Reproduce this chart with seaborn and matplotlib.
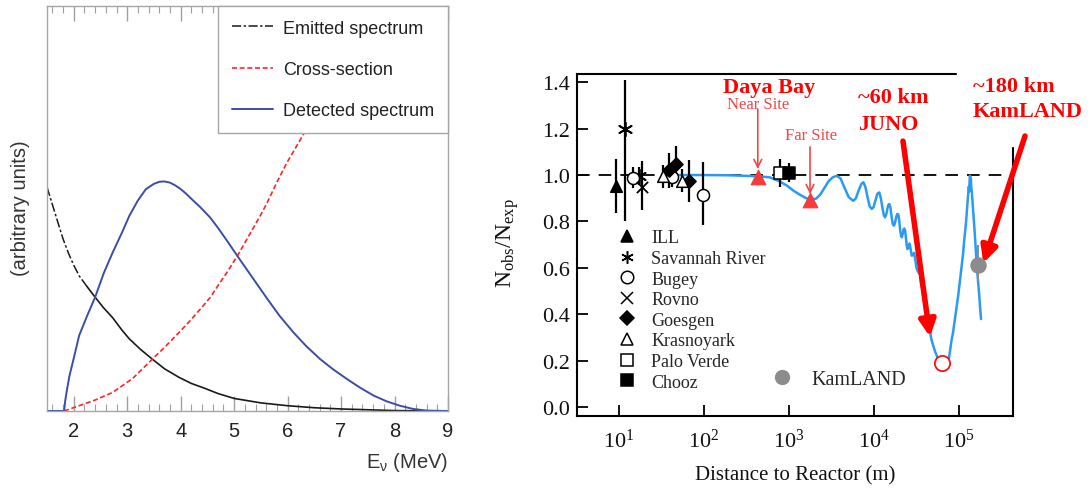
'''two panel figure: reactor antineutrino spectrum and survival ratio vs baseline'''
import numpy as np
import pandas as pd
import seaborn as sns
import matplotlib
matplotlib.use('Agg')
import matplotlib.pyplot as plt
from matplotlib.lines import Line2D
from matplotlib.patches import Rectangle
from matplotlib import ticker

#region data - left panel (arbitrary units, 0..1 of the axes height)
e_emit = [1.5, 1.6, 1.7, 1.8, 1.9, 2.0, 2.1, 2.25, 2.4, 2.55, 2.73, 2.9, 3.04, 3.25, 3.47, 3.7, 3.97, 4.2,
          4.45, 4.7, 5.0, 5.5, 6.0, 6.5, 7.0, 7.5, 8.0, 9.0]
emitted = [0.553, 0.51, 0.467, 0.425, 0.39, 0.36, 0.334, 0.307, 0.281, 0.256, 0.23, 0.2, 0.178, 0.152, 0.128,
           0.104, 0.083, 0.068, 0.056, 0.043, 0.031, 0.02, 0.013, 0.008, 0.005, 0.003, 0.001, 0.0]
n_dashdot = 8   # emitted spectrum is drawn dash-dot up to here, solid after

e_det = [1.5, 1.82, 1.84, 1.87, 1.92, 2.0, 2.1, 2.25, 2.4, 2.56, 2.73, 2.9, 3.04, 3.2, 3.35, 3.5, 3.6, 3.69,
         3.8, 3.9, 4.0, 4.09, 4.2, 4.37, 4.55, 4.7, 4.88, 5.06, 5.35, 5.62, 5.85, 6.11, 6.35, 6.61, 6.85,
         7.11, 7.35, 7.61, 7.85, 8.1, 8.35, 8.6, 9.0]
detected = [0.0, 0.0, 0.025, 0.05, 0.087, 0.13, 0.186, 0.235, 0.281, 0.34, 0.392, 0.44, 0.482, 0.52, 0.548,
            0.561, 0.566, 0.567, 0.564, 0.557, 0.548, 0.538, 0.524, 0.503, 0.478, 0.452, 0.418, 0.383, 0.328,
            0.277, 0.235, 0.194, 0.16, 0.128, 0.103, 0.079, 0.058, 0.038, 0.024, 0.013, 0.005, 0.001, 0.0]

e_xs = [1.82, 2.1, 2.4, 2.73, 3.1, 3.47, 3.72, 3.97, 4.17, 4.37, 4.55, 4.7, 4.88, 5.06, 5.2, 5.35, 5.5,
        5.62, 5.8, 5.99, 6.15, 6.3, 6.6, 6.9, 7.2]
xsection = [0.0, 0.013, 0.027, 0.046, 0.08, 0.128, 0.16, 0.194, 0.222, 0.252, 0.28, 0.31, 0.345, 0.383,
            0.415, 0.45, 0.485, 0.515, 0.565, 0.614, 0.65, 0.684, 0.77, 0.87, 0.98]

left_names = ['Emitted spectrum', 'Cross-section', 'Detected spectrum']
#endregion

#region data - right panel
# oscillation curve, distance (m) vs Nobs/Nexp
osc_L = [50, 100, 200, 300, 426, 605, 760, 953, 1150, 1365, 1580, 1790, 2100, 2350, 2650, 2940, 3300, 3690,
         4100, 4500, 5100, 5780, 6200, 6700, 7200, 7590, 8000, 8500, 9000, 9530, 10000, 10600, 11100, 11700,
         12200, 12700, 13200, 13650, 14100, 14600, 15000, 15350, 15800, 16300, 16800, 17400, 17900, 18500,
         19000, 19600, 20100, 20600, 21100, 21500, 22000, 22500, 23000, 23500, 24000, 24500, 25000, 25500,
         26000, 26500, 27200, 28100, 29000, 30000, 31000, 32000, 33650, 34500, 35300, 36300, 37500, 38500,
         39500, 40400, 41500, 42500, 43500, 44500, 46000, 47500, 49000, 51000, 53000, 55500, 58000, 61000,
         65200, 68000, 71000, 74000, 77000, 80000, 83200, 86000, 89000, 92000, 95300, 99000, 102000, 106000,
         109000, 113000, 116000, 119000, 122500, 126000, 128000, 130300, 132000, 133500, 135000, 136500,
         138000, 139500, 141000, 143000, 147000, 152000, 157000, 163700, 170000, 175400, 180000, 184000]
osc_R = [1.0, 1.0, 0.999, 0.997, 0.995, 0.99, 0.975, 0.955, 0.932, 0.915, 0.902, 0.895, 0.898, 0.915, 0.945,
         0.972, 0.99, 0.997, 0.985, 0.95, 0.905, 0.889, 0.9, 0.935, 0.962, 0.969, 0.95, 0.905, 0.865, 0.854,
         0.862, 0.895, 0.92, 0.925, 0.9, 0.86, 0.828, 0.818, 0.83, 0.858, 0.873, 0.875, 0.86, 0.82, 0.79,
         0.782, 0.795, 0.82, 0.832, 0.83, 0.8, 0.76, 0.738, 0.732, 0.745, 0.765, 0.77, 0.762, 0.73, 0.70,
         0.681, 0.685, 0.70, 0.705, 0.685, 0.653, 0.655, 0.665, 0.635, 0.60, 0.581, 0.585, 0.57, 0.53, 0.51,
         0.505, 0.47, 0.437, 0.425, 0.41, 0.37, 0.345, 0.335, 0.30, 0.28, 0.26, 0.24, 0.222, 0.19, 0.17,
         0.158, 0.162, 0.18, 0.19, 0.21, 0.25, 0.294, 0.32, 0.36, 0.40, 0.437, 0.48, 0.52, 0.57,
         0.61, 0.66, 0.71, 0.75, 0.796, 0.86, 0.89, 0.925, 0.95, 0.93, 0.975, 0.997,
         0.96, 0.985, 0.95, 0.93, 0.87, 0.796, 0.72, 0.61, 0.54, 0.48, 0.42, 0.38]

exp_names = ['ILL', 'Savannah River', 'Bugey', 'Rovno', 'Goesgen', 'Krasnoyark', 'Palo Verde', 'Chooz']
exp_L = {'ILL': [9.3], 'Savannah River': [11.9, 17.6], 'Bugey': [14.9, 42.3, 98], 'Rovno': [18.7],
         'Goesgen': [39.3, 47.4, 68], 'Krasnoyark': [33, 56.4], 'Palo Verde': [800], 'Chooz': [1000]}
exp_R = {'ILL': [0.953], 'Savannah River': [1.2, 0.995], 'Bugey': [0.989, 0.99, 0.912], 'Rovno': [0.949],
         'Goesgen': [1.02, 1.049, 0.975], 'Krasnoyark': [0.995, 0.975], 'Palo Verde': [1.01], 'Chooz': [1.01]}
exp_err_lo = {'ILL': [0.115], 'Savannah River': [0.40, 0.04], 'Bugey': [0.045, 0.04, 0.125], 'Rovno': [0.10],
              'Goesgen': [0.075, 0.075, 0.09], 'Krasnoyark': [0.05, 0.05], 'Palo Verde': [0.06], 'Chooz': [0.04]}
exp_err_hi = {'ILL': [0.115], 'Savannah River': [0.21, 0.04], 'Bugey': [0.045, 0.04, 0.145], 'Rovno': [0.11],
              'Goesgen': [0.075, 0.075, 0.09], 'Krasnoyark': [0.05, 0.05], 'Palo Verde': [0.06], 'Chooz': [0.04]}

dayabay_L = [435, 1790]
dayabay_R = [0.99, 0.892]
juno_L, juno_R = [63400], [0.19]
kamland_L, kamland_R = [171000], [0.613]
kamland_err = [[0.07], [0.085]]

y_ticks = [0.0, 0.2, 0.4, 0.6, 0.8, 1.0, 1.2, 1.4]
x_ticks = [1e1, 1e2, 1e3, 1e4, 1e5]
#endregion

#region styles
SANS = ['Liberation Sans', 'DejaVu Sans']
SERIF = ['Liberation Serif', 'DejaVu Serif']
BLUE = '#3b4ea6'
RED = '#ff2424'
OSC_BLUE = '#2b9af3'
ARROW_RED = '#ff0000'
SITE_RED = '#f04848'

# marker, size, face colour
exp_style = {'ILL': ('^', 70, 'black'), 'Savannah River': ((6, 2, 0), 100, 'black'),
             'Bugey': ('o', 75, 'white'), 'Rovno': ('x', 65, 'black'),
             'Goesgen': ('D', 45, 'black'), 'Krasnoyark': ('^', 70, 'white'),
             'Palo Verde': ('s', 65, 'white'), 'Chooz': ('s', 65, 'black')}
#endregion

sns.set_theme(style='white')
plt.rcParams['font.family'] = SANS
plt.rcParams['mathtext.default'] = 'regular'

fig = plt.figure(figsize=(10.91, 4.89), dpi=100)
ax1 = fig.add_axes([0.0431, 0.1575, 0.3675, 0.828])
ax2 = fig.add_axes([0.5289, 0.1472, 0.3996, 0.6994])

#region left panel
dashdot = (0, (6, 1.6, 1.6, 1.6))
sns.lineplot(x=e_emit[:n_dashdot], y=emitted[:n_dashdot], ax=ax1, color='#1a1a1a', lw=1.1,
             linestyle=dashdot, estimator=None)
sns.lineplot(x=e_emit[n_dashdot - 1:], y=emitted[n_dashdot - 1:], ax=ax1, color='#1a1a1a', lw=1.2, estimator=None)
sns.lineplot(x=e_xs, y=xsection, ax=ax1, color=RED, lw=1.2, linestyle=(0, (3, 1.6)), estimator=None)
sns.lineplot(x=e_det, y=detected, ax=ax1, color=BLUE, lw=1.4, estimator=None)

ax1.set_xlim(1.5, 9)
ax1.set_ylim(0, 1)
ax1.set_xticks(range(2, 10))
ax1.xaxis.set_minor_locator(ticker.MultipleLocator(0.2))
ax1.set_yticks([])
ax1.tick_params(axis='x', which='both', direction='in', top=True, bottom=True, color='#a0a0a0')
ax1.tick_params(axis='x', which='major', length=11, width=1, labelsize=14.5, pad=7, labelcolor='#222222')
ax1.tick_params(axis='x', which='minor', length=5, width=0.8)
plt.setp(ax1.get_xticklabels(), family=SANS)
for s in ax1.spines.values():
    s.set_color('#a6a6a6')
    s.set_linewidth(1)

ax1.set_ylabel('(arbitrary units)', fontsize=14.5, color='#333333', family=SANS)
ax1.yaxis.set_label_coords(-0.043, 0.504)
ax1.set_xlabel(r'E$_{\nu}$ (MeV)', fontsize=14.5, color='#333333', family=SANS, ha='right')
ax1.xaxis.set_label_coords(1.0, -0.096)

h_left = [Line2D([], [], color='#1a1a1a', lw=1.1, ls=dashdot),
          Line2D([], [], color=RED, lw=1.2, ls=(0, (3, 1.6))),
          Line2D([], [], color=BLUE, lw=1.4)]
leg1 = ax1.legend(h_left, left_names, loc='upper right', bbox_to_anchor=(1, 1), borderaxespad=0,
                  fancybox=False, edgecolor='#a6a6a6', framealpha=1, handlelength=2.3,
                  handletextpad=0.55, labelspacing=1.35, borderpad=0.75, prop={'family': SANS, 'size': 13})
leg1.get_frame().set_linewidth(1)
for t in leg1.get_texts():
    t.set_color('#222222')
#endregion

#region right panel
ax2.set_xscale('log')
ax2.axhline(1.0, color='black', lw=1.3, ls=(0, (7, 5)), zorder=1)
sns.lineplot(x=osc_L, y=osc_R, ax=ax2, color=OSC_BLUE, lw=1.8, estimator=None, zorder=2)

for name in exp_names:
    marker, size, face = exp_style[name]
    ax2.errorbar(exp_L[name], exp_R[name], yerr=[exp_err_lo[name], exp_err_hi[name]], fmt='none',
                 ecolor='black', elinewidth=1.6, capsize=0, zorder=3)
    kw = dict(marker=marker, s=size, color=face, ax=ax2, zorder=4, legend=False)
    if marker in ('x', (6, 2, 0)):
        kw['linewidth'] = 1.3
    else:
        kw['edgecolor'] = 'black'
        kw['linewidth'] = 1.1
    sns.scatterplot(x=exp_L[name], y=exp_R[name], **kw)

ax2.errorbar(kamland_L, kamland_R, yerr=kamland_err, fmt='none', ecolor='#8c8c8c', elinewidth=1.4, zorder=3)
sns.scatterplot(x=kamland_L, y=kamland_R, ax=ax2, marker='o', s=120, color='#8c8c8c', edgecolor='#8c8c8c',
                zorder=4, legend=False)
sns.scatterplot(x=dayabay_L, y=dayabay_R, ax=ax2, marker='^', s=110, color='#f53b3b', edgecolor='#f53b3b',
                zorder=5, legend=False)
sns.scatterplot(x=juno_L, y=juno_R, ax=ax2, marker='o', s=120, color='white', edgecolor='#ff1010',
                linewidth=1.3, zorder=5, legend=False)

ax2.set_xlim(3.25, 4.37e5)
ax2.set_ylim(-0.0375, 1.435)
ax2.set_xticks(x_ticks)
ax2.xaxis.set_major_formatter(ticker.LogFormatterMathtext())
ax2.xaxis.set_minor_locator(ticker.NullLocator())
ax2.set_yticks(y_ticks)
ax2.yaxis.set_major_formatter(ticker.FormatStrFormatter('%.1f'))
ax2.tick_params(axis='both', which='major', direction='in', length=8, width=1.3, color='black',
                labelsize=16, labelcolor='#111111', left=True, bottom=True, top=False, right=False)
ax2.tick_params(axis='y', pad=5)
ax2.tick_params(axis='x', pad=9)
plt.setp(ax2.get_xticklabels() + ax2.get_yticklabels(), family=SERIF)
for s in ax2.spines.values():
    s.set_color('black')
    s.set_linewidth(1.5)

ax2.set_ylabel('N$_{obs}$/N$_{exp}$', fontsize=17, family=SERIF, color='#111111')
ax2.yaxis.set_label_coords(-0.128, 0.509)
ax2.set_xlabel('Distance to Reactor (m)', fontsize=15, family=SERIF, color='#111111')
ax2.xaxis.set_label_coords(0.5, -0.143)

# experiment legend
h_exp = [Line2D([], [], ls='none', marker=exp_style[n][0], markersize=9 if exp_style[n][0] != 'D' else 7,
                markerfacecolor=exp_style[n][2], markeredgecolor='black', color='black', markeredgewidth=1.1)
         for n in exp_names]
leg2 = ax2.legend(h_exp, exp_names, loc='upper left', bbox_to_anchor=(0.094, 0.546), borderaxespad=0,
                  borderpad=0, frameon=False, handlelength=1, handletextpad=0.85, labelspacing=0.2,
                  prop={'family': SERIF, 'size': 13})
ax2.add_artist(leg2)
h_kam = [Line2D([], [], ls='none', marker='o', markersize=10, color='#8c8c8c')]
ax2.legend(h_kam, ['KamLAND'], loc='center left', bbox_to_anchor=(0.447, 0.106), borderaxespad=0,
           borderpad=0, frameon=False, handlelength=1, handletextpad=0.95, prop={'family': SERIF, 'size': 14.5})

# white patch hiding the top right corner of the frame
ax2.add_patch(Rectangle((0.8716, 0.789), 0.3, 0.3, transform=ax2.transAxes, color='white',
                        clip_on=False, zorder=6))

# annotations
bold = dict(transform=ax2.transAxes, color=ARROW_RED, fontsize=16, fontweight='bold', family=SERIF,
            va='baseline', zorder=8)
ax2.text(0.440, 0.947, 'Daya Bay', ha='center', **bold)
ax2.text(0.6445, 0.917, '~60 km', ha='left', **bold)
ax2.text(0.6445, 0.839, 'JUNO', ha='left', **bold)
ax2.text(0.908, 0.951, '~180 km', ha='left', **bold)
ax2.text(0.908, 0.878, 'KamLAND', ha='left', **bold)
ax2.text(0.4151, 0.9006, 'Near Site', ha='center', va='baseline', transform=ax2.transAxes,
         color=SITE_RED, fontsize=12, family=SERIF, zorder=8)
ax2.text(0.5367, 0.810, 'Far Site', ha='center', va='baseline', transform=ax2.transAxes,
         color=SITE_RED, fontsize=12, family=SERIF, zorder=8)

thin = dict(arrowstyle='->', color=SITE_RED, lw=1.2, shrinkA=0, shrinkB=0, mutation_scale=14)
ax2.annotate('', xy=(dayabay_L[0], 1.026), xytext=(dayabay_L[0], 1.284), arrowprops=thin,
             annotation_clip=False, zorder=8)
ax2.annotate('', xy=(dayabay_L[1], 0.918), xytext=(dayabay_L[1], 1.121), arrowprops=thin,
             annotation_clip=False, zorder=8)
thick = dict(arrowstyle='-|>', color=ARROW_RED, lw=4, shrinkA=0, shrinkB=0, mutation_scale=24)
ax2.annotate('', xy=(46200, 0.303), xytext=(22200, 1.146), arrowprops=thick, annotation_clip=False, zorder=9)
ax2.annotate('', xy=(196000, 0.621), xytext=(605000, 1.168), arrowprops=thick, annotation_clip=False, zorder=9)
#endregion

fig.savefig('out.png', dpi=100)
